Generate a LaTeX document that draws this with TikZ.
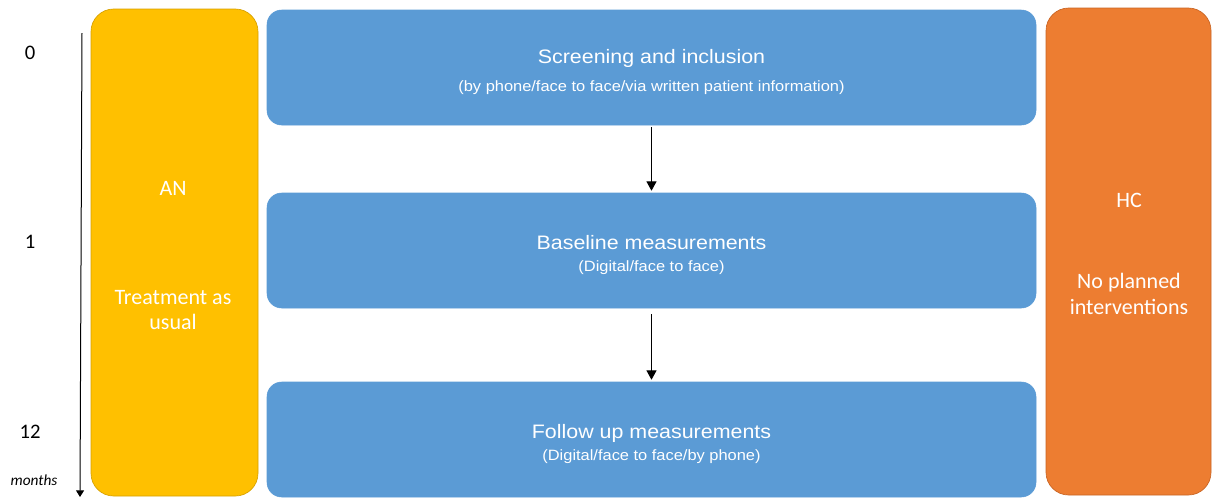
\documentclass[tikz,border=0pt]{standalone}
\usepackage{fontspec}
\setmainfont{Carlito}
\newfontfamily\boxfont[FakeStretch=1.1]{Liberation Sans}
\usetikzlibrary{arrows.meta}

\definecolor{stepblue}{RGB}{91,155,213}
\definecolor{anyellow}{RGB}{255,192,0}
\definecolor{anedge}{RGB}{214,160,0}
\definecolor{hcorange}{RGB}{237,125,49}
\definecolor{hcedge}{RGB}{200,100,35}

\tikzset{
  stepbox/.style={rounded corners=11pt, fill=stepblue, draw=stepblue, text=white,
    minimum width=576.75pt, minimum height=86.25pt, inner sep=0pt, align=center,
    font=\boxfont\fontsize{14.6}{17}\selectfont},
  groupbox/.style={rounded corners=17pt, minimum height=365.25pt, inner sep=0pt, line width=0.5pt},
  grouplbl/.style={text=white, align=center, font=\fontsize{16.5}{19}\selectfont},
  timelbl/.style={text=black, font=\fontsize{15.5}{18}\selectfont},
  flow/.style={line width=0.75pt, -{Triangle[width=7.5pt,length=7pt]}},
}
\newcommand{\substep}[1]{{\fontsize{11.2}{14}\selectfont #1}}
\newcommand{\steptext}[3][0pt]{\raisebox{-4pt}[\height][\depth]{\begin{tabular}{@{}c@{}}#2\\[#1]\substep{#3}\end{tabular}}}

\begin{document}
\begin{tikzpicture}[x=0.75pt,y=0.75pt,yscale=-1,xscale=1]
\useasboundingbox (0,0) rectangle (1212,497);
% groups
\node [groupbox, fill=anyellow, draw=anedge, minimum width=125.25pt] (an) at (174.5,252.5) {};
\node [groupbox, fill=hcorange, draw=hcedge, minimum width=123.75pt] (hc) at (1128.5,251.5) {};
\node [grouplbl] (antitle) at (173,188) {AN};
\node [grouplbl] (antext) at (173,310) {Treatment as\\usual};
\node [grouplbl] (hctitle) at (1129,200) {HC};
\node [grouplbl] (hctext) at (1129,294) {No planned\\interventions};
% steps
\node [stepbox] (screen) at (651.5,67.5) {\steptext[4pt]{Screening and inclusion}{(by phone/face to face/via written patient information)}};
\node [stepbox] (baseline) at (651.5,250.5) {\steptext{Baseline measurements}{(Digital/face to face)}};
\node [stepbox] (followup) at (651.5,439.5) {\steptext{Follow up measurements}{(Digital/face to face/by phone)}};
\draw [flow, shorten <=1.5pt, shorten >=1.5pt] (screen.south) -- (baseline.north);
\draw [flow, shorten <=4.5pt, shorten >=1.5pt] (baseline.south) -- (followup.north);
% time axis
\coordinate (ttop) at (82,33);
\coordinate (tbot) at (80,497);
\draw [line width=0.75pt, -{Triangle[width=6pt,length=5pt]}] (ttop) -- (tbot);
\node [timelbl] (t0) at (30,53) {0};
\node [timelbl] (t1) at (30,242) {1};
\node [timelbl] (t12) at (30,432) {12};
\node [font=\itshape\fontsize{11.5}{14}\selectfont] (months) at (34,480) {months};
\end{tikzpicture}
\end{document}
